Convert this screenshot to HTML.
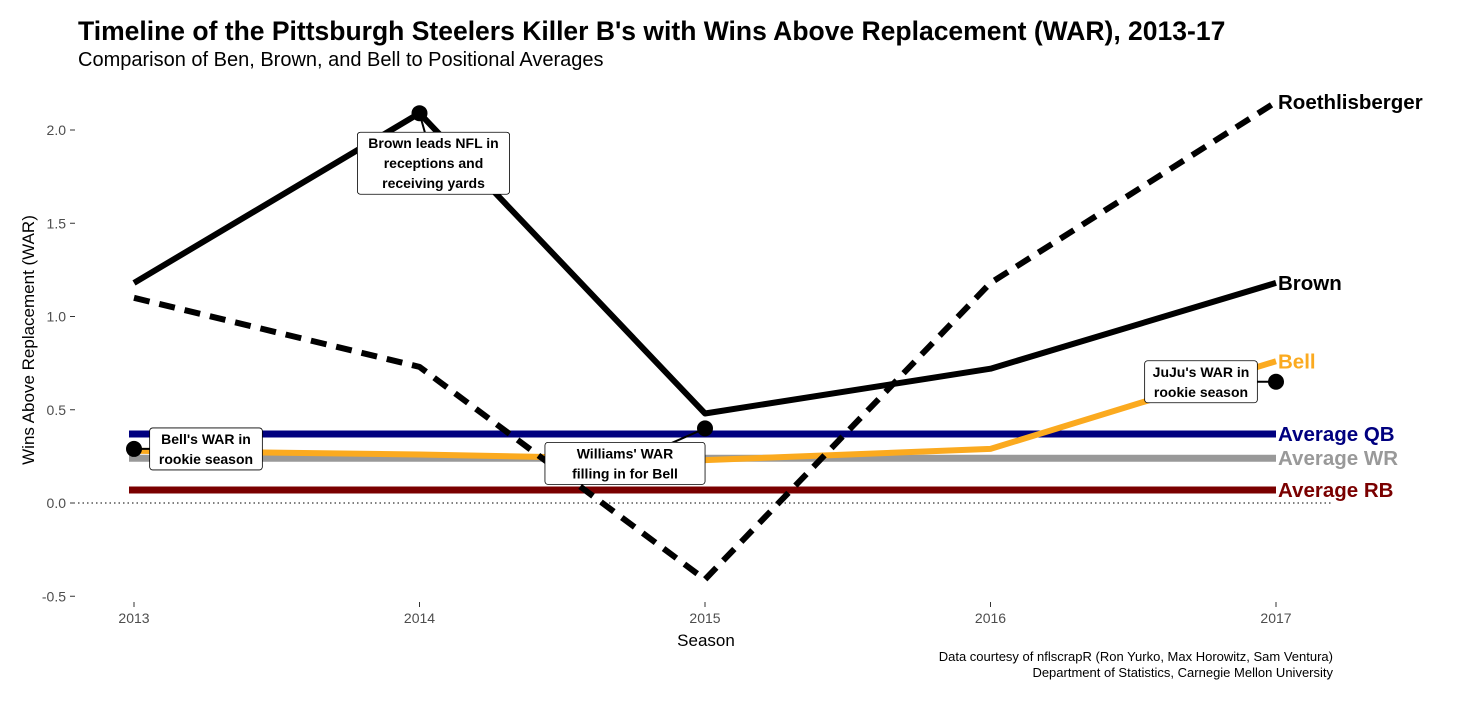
<!DOCTYPE html>
<html><head><meta charset="utf-8"><style>
body{margin:0;background:#fff;font-family:"Liberation Sans",sans-serif}
svg text{font-family:"Liberation Sans",sans-serif}
</style></head><body>
<svg width="1468" height="717">
<text x="78" y="40" font-size="26.5" font-weight="bold">Timeline of the Pittsburgh Steelers Killer B's with Wins Above Replacement (WAR), 2013-17</text>
<text x="78" y="66" font-size="20">Comparison of Ben, Brown, and Bell to Positional Averages</text>
<g id="axes"></g>
<g id="plot"></g>
<text x="706" y="646" font-size="17" text-anchor="middle">Season</text>
<text transform="translate(34,340) rotate(-90)" font-size="17" text-anchor="middle">Wins Above Replacement (WAR)</text>
<text x="1333" y="661" font-size="13" text-anchor="end">Data courtesy of nflscrapR (Ron Yurko, Max Horowitz, Sam Ventura)</text>
<text x="1333" y="677" font-size="13" text-anchor="end">Department of Statistics, Carnegie Mellon University</text>
</svg>
<script>
const seasons=[2013,2014,2015,2016,2017];
const brown=[1.18,2.09,0.48,0.72,1.18];
const ben=[1.10,0.73,-0.41,1.18,2.15];
const bell=[0.28,0.26,0.23,0.29,0.76];
const avgNames=["Average QB","Average WR","Average RB"];
const avgValues=[0.37,0.24,0.07];
const yTicks=[-0.5,0.0,0.5,1.0,1.5,2.0];
const yTickLabels=["-0.5","0.0","0.5","1.0","1.5","2.0"];
const noteSeasons=[2013,2014,2015,2017];
const noteValues=[0.29,2.09,0.40,0.65];
const noteTexts=[["Bell's WAR in","rookie season"],["Brown leads NFL in","receptions and","receiving yards"],["Williams' WAR","filling in for Bell"],["JuJu's WAR in","rookie season"]];
const noteOffsets=[[72,0],[14,50],[-80,35],[-75,0]];
const NS="http://www.w3.org/2000/svg";
const X=s=>134+(s-2013)*285.5;
const Y=v=>503-v*186.5;
const ax=document.getElementById('axes'),pl=document.getElementById('plot');
function mk(tag,a,p){const e=document.createElementNS(NS,tag);for(const k in a)e.setAttribute(k,a[k]);p.appendChild(e);return e;}
yTicks.forEach((t,i)=>{
 const tk=mk('line',{x1:70,x2:75,y1:Y(t),y2:Y(t),stroke:'#333'},ax);
 
 
 const tl=mk('text',{x:66,y:Y(t)+5,'font-size':14,fill:'#4d4d4d','text-anchor':'end'},ax);
 tl.textContent=yTickLabels[i];
 
 
});
seasons.forEach(s=>{
 const tk=mk('line',{x1:X(s),x2:X(s),y1:602,y2:607,stroke:'#333'},ax);
 
 
 const tl=mk('text',{x:X(s),y:623,'font-size':14,fill:'#4d4d4d','text-anchor':'middle'},ax);
 tl.textContent=s;
 
 
});
const zl=mk('line',{x1:78,x2:1333,y1:Y(0),y2:Y(0),stroke:'#000','stroke-dasharray':'1.5 3'},pl);


const avgColors=['#00007f','#999999','#7a0000'];
avgValues.forEach((v,i)=>{
 const l=mk('line',{x1:129,x2:X(2017),y1:Y(v),y2:Y(v),stroke:avgColors[i],'stroke-width':7},pl);
 
 
});
function series(vals,color,dash,name){
 const p=mk('polyline',{points:vals.map((v,i)=>X(seasons[i])+','+Y(v)).join(' '),fill:'none',stroke:color,'stroke-width':6,'stroke-dasharray':dash||'none','stroke-linejoin':'round'},pl);
 
 
}
series(bell,'#fbaa1f',null,'bell-line');
series(ben,'#000','16 10','roethlisberger-line');
series(brown,'#000',null,'brown-line');
function endLabel(txt,v,color,name){
 const t=mk('text',{x:X(2017)+2,y:Y(v)+7,'font-size':20.5,'font-weight':'bold',fill:color},pl);
 t.textContent=txt;
 
 
}
endLabel('Roethlisberger',ben[4],'#000','label-roethlisberger');
endLabel('Brown',brown[4],'#000','label-brown');
endLabel('Bell',bell[4],'#fbaa1f','label-bell');
avgValues.forEach((v,i)=>endLabel(avgNames[i],v,avgColors[i],'label-average'));
noteSeasons.forEach((s,i)=>{
 const px=X(s),py=Y(noteValues[i]);
 const cx=px+noteOffsets[i][0],cy=py+noteOffsets[i][1];
 const lines=noteTexts[i];
 const w=Math.max(...lines.map(l=>l.length))*7.9+10,h=lines.length*20+2;
 const ln=mk('line',{x1:px,y1:py,x2:cx,y2:cy,stroke:'#000','stroke-width':2},pl);
 
 
 const c=mk('circle',{cx:px,cy:py,r:8,fill:'#000'},pl);
 
 
 const r=mk('rect',{x:cx-w/2,y:cy-h/2,width:w,height:h,rx:3,fill:'#fff',stroke:'#000','stroke-width':0.8},pl);
 
 
 lines.forEach((l,j)=>{
  const t=mk('text',{x:cx,y:cy-h/2+16+j*20,'font-size':14,'font-weight':'bold','text-anchor':'middle'},pl);
  t.textContent=l;
  
  
 });
});
</script>
</body></html>
